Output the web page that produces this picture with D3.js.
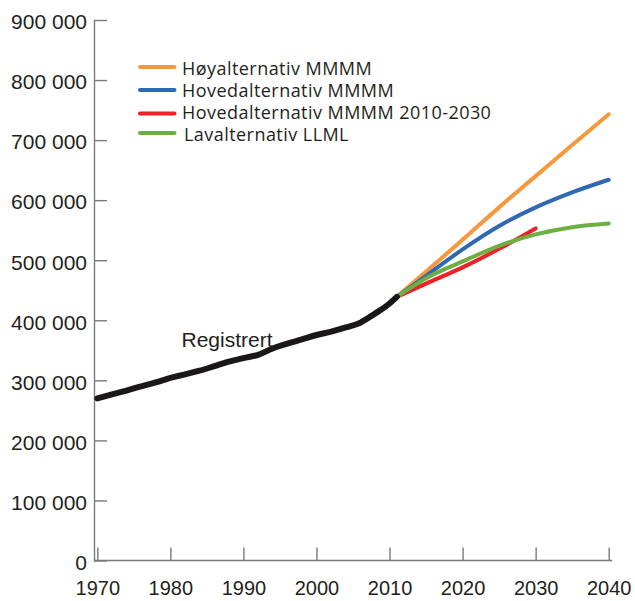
<!DOCTYPE html>
<html>
<head>
<meta charset="utf-8">
<script src="https://cdn.jsdelivr.net/npm/d3@7"></script>
<style>
  html, body { margin: 0; padding: 0; background: #fff; }
  svg { display: block; }
</style>
</head>
<body>
<svg id="chart" width="635" height="601"></svg>
<script>
// ---- Data ----
const registeredYears = [1970,1972,1974,1976,1978,1980,1982,1984,1986,1988,1990,1992,1994,1996,1998,2000,2002,2004,2006,2008,2010,2011];
const registeredValues = [270000,276500,283000,290000,296500,304000,310000,316000,323500,331000,337000,342500,353000,361000,368000,375500,381000,388000,396000,411000,428000,439000];

const projYears = [2011,2015,2020,2025,2030,2035,2040];
const highValues = [439000,481000,534000,588000,640000,692000,743000];   // Høyalternativ MMMM
const mainValues = [439000,474000,518000,557000,588000,613000,634000];   // Hovedalternativ MMMM
const lowValues  = [439000,470000,498000,524000,543000,555000,561000];   // Lavalternativ LLML

const main2010Years  = [2011,2015,2020,2025,2030];
const main2010Values = [439000,461000,488000,519000,553000];             // Hovedalternativ MMMM 2010-2030

const xTicks = [1970,1980,1990,2000,2010,2020,2030,2040];
const yTicks = [0,100000,200000,300000,400000,500000,600000,700000,800000,900000];

const legendLabels = ["Høyalternativ MMMM","Hovedalternativ MMMM","Hovedalternativ MMMM 2010-2030","Lavalternativ LLML"];
const legendColors = ["#f7993b","#2f69b4","#ed2127","#6cb044"];

// ---- Chart ----
const svg = d3.select("#chart");
const x = d3.scaleLinear().domain([1970, 2040]).range([97.3, 608.7]);
const y = d3.scaleLinear().domain([0, 900000]).range([560.5, 20]);
const axisX0 = 94;

const loc = d3.formatLocale({decimal: ",", thousands: " ", grouping: [3], currency: ["", ""]});
const fmt = loc.format(",d");

const axisColor = "#7a7a7a";
const textColor = "#231f20";

// Y axis
const yAxis = svg.append("g")
  .attr("transform", `translate(${axisX0},0)`)
  .call(d3.axisLeft(y).tickValues(yTicks).tickFormat(fmt).tickSizeInner(-13).tickSizeOuter(0).tickPadding(7));
yAxis.select(".domain").attr("stroke", axisColor).attr("stroke-width", 1.4);
yAxis.selectAll(".tick line").attr("stroke", axisColor).attr("stroke-width", 1.4);
yAxis.selectAll(".tick text")
  .attr("fill", textColor)
  .attr("font-family", "'Liberation Sans', Arial, sans-serif")
  .attr("font-size", 21)
  .attr("dy", "0.42em");

// X axis
const xAxis = svg.append("g")
  .attr("transform", `translate(0,${y(0)})`)
  .call(d3.axisBottom(x).tickValues(xTicks).tickFormat(d3.format("d")).tickSizeInner(-13).tickSizeOuter(0).tickPadding(20));
xAxis.select(".domain").remove();
xAxis.append("line")
  .attr("x1", axisX0).attr("x2", x(2040) + 3.5)
  .attr("y1", 0).attr("y2", 0)
  .attr("stroke", axisColor).attr("stroke-width", 1.4);
xAxis.selectAll(".tick line").attr("stroke", axisColor).attr("stroke-width", 1.4);
xAxis.selectAll(".tick text")
  .attr("fill", textColor)
  .attr("font-family", "'Liberation Sans', Arial, sans-serif")
  .attr("font-size", 20);

// Lines
const smooth = d3.line().x(d => x(d[0])).y(d => y(d[1])).curve(d3.curveMonotoneX);
const zip = (a, b) => a.map((v, i) => [v, b[i]]);

const series = [
  {data: zip(projYears, highValues), color: legendColors[0]},
  {data: zip(projYears, mainValues), color: legendColors[1]},
  {data: zip(main2010Years, main2010Values), color: legendColors[2]},
  {data: zip(projYears, lowValues), color: legendColors[3]}
];

svg.append("g").selectAll("path")
  .data(series)
  .join("path")
  .attr("d", d => smooth(d.data))
  .attr("fill", "none")
  .attr("stroke", d => d.color)
  .attr("stroke-width", 4)
  .attr("stroke-linecap", "round")
  .attr("stroke-linejoin", "round");

svg.append("path")
  .attr("d", smooth(zip(registeredYears, registeredValues)))
  .attr("fill", "none")
  .attr("stroke", "#1a1718")
  .attr("stroke-width", 6)
  .attr("stroke-linecap", "round")
  .attr("stroke-linejoin", "round");

// Registrert label
svg.append("text")
  .attr("x", 181.5).attr("y", 346.5)
  .attr("fill", textColor)
  .attr("font-family", "'Liberation Sans', Arial, sans-serif")
  .attr("font-size", 21)
  .text("Registrert");

// Legend
const legendLineY = [67, 90, 113.5, 133];
const legendTextY = [68.5, 90.5, 112.5, 134.5];
const legendTextX = [182, 182, 182, 184];
const leg = svg.append("g");
legendLabels.forEach((lab, i) => {
  leg.append("line")
    .attr("x1", 140).attr("x2", 174.5)
    .attr("y1", legendLineY[i]).attr("y2", legendLineY[i])
    .attr("stroke", legendColors[i]).attr("stroke-width", 4).attr("stroke-linecap", "round");
  leg.append("text")
    .attr("x", legendTextX[i]).attr("y", legendTextY[i])
    .attr("dy", "0.36em")
    .attr("fill", textColor)
    .attr("font-family", "'Open Sans', 'Noto Sans', sans-serif")
    .attr("font-size", 18)
    .attr("letter-spacing", 0.45)
    .text(lab);
});
</script>
</body>
</html>
